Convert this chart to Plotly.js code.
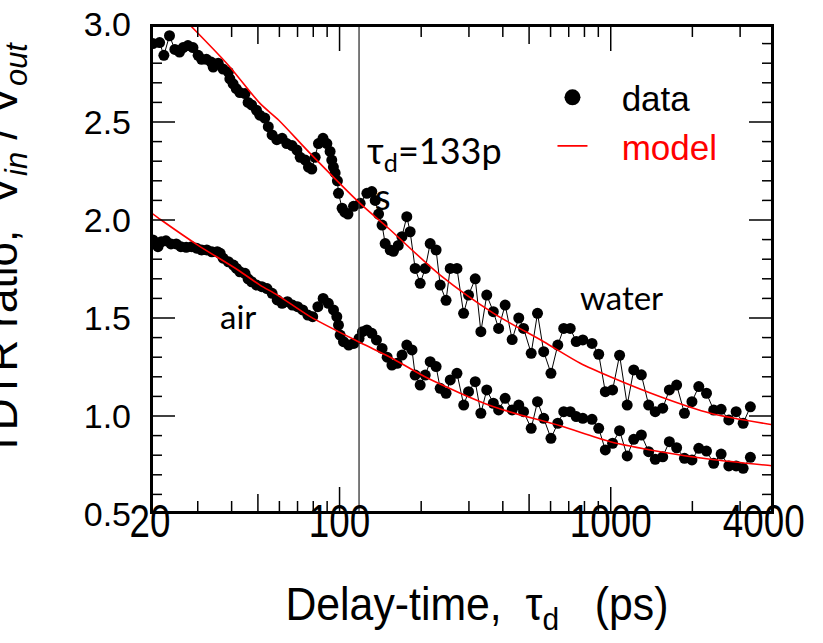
<!DOCTYPE html>
<html>
<head>
<meta charset="utf-8">
<script src="https://cdn.plot.ly/plotly-3.0.1.min.js"></script>
<style>html,body{margin:0;padding:0;background:#fff;}</style>
</head>
<body>
<div id="chart" style="width:823px;height:643px;"></div>
<script>
// ---- data ----
const waterDelay = [20.5, 21.7, 22.5, 23.6, 24.7, 25.7, 26.5, 27.6, 28.8, 30.1,
  31.0, 32.3, 33.6, 34.2, 35.7, 37.2, 38.9, 39.4, 40.5, 41.6,
  42.9, 44.8, 46.0, 47.4, 49.4, 50.8, 53.0, 54.6, 56.4, 58.7,
  61.4, 63.9, 66.8, 69.6, 71.6, 74.7, 76.8, 79.0, 81.3, 83.6,
  86.9, 89.8, 92.3, 93.6, 94.9, 96.3, 98.2, 99.1, 102.2, 104.5,
  107.4, 112.6, 119.1, 126.1, 131.5, 135.4, 139.3, 143.5, 147.3, 153.7,
  158, 164.6, 169.8, 177, 182.1, 190, 198.3, 207, 215.9, 227,
  235, 247, 255.9, 271, 286.7, 299, 316.5, 332, 349, 369,
  386, 408, 433, 458, 477, 509, 537, 566, 602, 638,
  671, 709, 746, 789, 853, 903, 955, 1016, 1078, 1150,
  1216, 1297, 1380, 1459, 1555, 1645, 1750, 1870, 1993, 2112,
  2255, 2397, 2553, 2725, 2900, 3078, 3273];
const waterRatio = [2.90, 2.905, 2.84, 2.94, 2.87, 2.857, 2.88, 2.89, 2.88, 2.84,
  2.82, 2.82, 2.806, 2.78, 2.80, 2.77, 2.755, 2.72, 2.695, 2.67,
  2.65, 2.645, 2.60, 2.587, 2.56, 2.535, 2.52, 2.476, 2.434, 2.41,
  2.417, 2.39, 2.38, 2.357, 2.32, 2.306, 2.27, 2.26, 2.32, 2.39,
  2.417, 2.39, 2.35, 2.306, 2.27, 2.24, 2.20, 2.136, 2.06, 2.04,
  2.03, 2.07, 2.085, 2.136, 2.145, 2.10, 2.03, 1.974, 1.88, 1.847,
  1.84, 1.87, 1.915, 2.017, 1.94, 1.753, 1.677, 1.753, 1.88, 1.847,
  1.668, 1.59, 1.753, 1.753, 1.524, 1.617, 1.70, 1.43, 1.617, 1.532,
  1.447, 1.566, 1.39, 1.50, 1.447, 1.32, 1.524, 1.328, 1.218, 1.362,
  1.447, 1.447, 1.38, 1.388, 1.37, 1.315, 1.124, 1.133, 1.31, 1.056,
  1.235, 1.21, 1.056, 1.022, 1.04, 1.133, 1.158, 1.014, 1.073, 1.15,
  1.116, 1.03, 1.034, 0.98, 1.022, 0.963, 1.047];

const airDelay = [20.5, 21.4, 22.0, 22.9, 23.9, 25.0, 26.0, 27.2, 28.5, 29.7,
  31.0, 32.4, 33.8, 35.4, 36.3, 37.2, 38.9, 40.6, 41.7, 42.9,
  44.8, 46.0, 47.4, 49.4, 51.7, 54.0, 56.4, 58.9, 61.4, 64.2,
  67.0, 70.0, 73.1, 76.4, 79.6, 83.2, 87.0, 90.9, 95.0, 97.7,
  99.1, 100.5, 103.4, 108.1, 112.9, 118.0, 121.5, 126.1, 131.5, 136.8,
  143.5, 149.8, 156, 163, 170, 177, 185, 190, 198.3, 207,
  215.9, 227, 235, 247, 256, 271, 287, 299, 316.5, 332,
  349, 369, 386, 408, 433, 458, 477, 509, 537, 566,
  602, 638, 671, 709, 746, 789, 853, 903, 955, 1016,
  1078, 1150, 1216, 1297, 1380, 1459, 1555, 1645, 1750, 1870,
  1993, 2112, 2255, 2397, 2553, 2725, 2900, 3078, 3273];
const airRatio = [1.898, 1.864, 1.889, 1.894, 1.878, 1.878, 1.864, 1.861, 1.864, 1.856,
  1.847, 1.847, 1.838, 1.838, 1.83, 1.805, 1.787, 1.77, 1.753, 1.736,
  1.728, 1.70, 1.685, 1.668, 1.66, 1.65, 1.626, 1.592, 1.575, 1.583,
  1.566, 1.558, 1.541, 1.515, 1.507, 1.558, 1.60, 1.575, 1.541, 1.507,
  1.464, 1.413, 1.379, 1.362, 1.37, 1.396, 1.43, 1.439, 1.422, 1.388,
  1.345, 1.30, 1.26, 1.269, 1.311, 1.362, 1.337, 1.209, 1.158, 1.209,
  1.277, 1.252, 1.141, 1.116, 1.184, 1.218, 1.056, 1.124, 1.175, 1.014,
  1.133, 1.065, 1.031, 1.09, 1.031, 1.056, 1.022, 0.937, 1.073, 0.988,
  0.886, 0.963, 1.022, 1.022, 0.997, 0.988, 0.983, 0.937, 0.827, 0.861,
  0.925, 0.796, 0.881, 0.903, 0.818, 0.779, 0.792, 0.869, 0.838, 0.784,
  0.776, 0.835, 0.821, 0.759, 0.806, 0.745, 0.745, 0.733, 0.789];

const modelWaterDelay = [28.3, 38.9, 50.9, 59.7, 77.9, 119, 151.5, 235, 370, 566, 772, 996, 1524, 2330, 4000];
const modelWaterRatio = [2.99, 2.79, 2.595, 2.509, 2.34, 2.085, 1.958, 1.719, 1.524, 1.379, 1.269, 1.20, 1.098, 1.014, 0.954];
const modelAirDelay = [20, 22, 30, 42.2, 50.9, 59, 77.9, 119, 153.7, 210, 370, 651, 996, 1524, 2330, 4000];
const modelAirRatio = [2.042, 2.0, 1.872, 1.745, 1.668, 1.617, 1.507, 1.375, 1.30, 1.195, 1.047, 0.95, 0.869, 0.818, 0.779, 0.745];

const tauLineDelay = [118, 118];     // vertical marker line (ps)
const tauLineRatio = [0.5, 3.0];

// axis limits, tick values and tick labels
const xLimits = [20, 4000];
const yLimits = [0.5, 3.0];
const xLabelTicks = [20, 100, 1000, 4000];
const xLabelText = ['20', '100', '1000', '4000\u00a0\u00a0'];
const xLongTicks = [100, 1000];
const xMidTicks = [50, 500];
const xMinorTicks = [30, 40, 60, 70, 80, 90, 200, 300, 400, 600, 700, 800, 900, 2000, 3000];
const yMajorTicks = [1.0, 1.5, 2.0, 2.5];
const yMinorTicks = [0.6, 0.7, 0.8, 0.9, 1.1, 1.2, 1.3, 1.4, 1.6, 1.7, 1.8, 1.9, 2.1, 2.2, 2.3, 2.4, 2.6, 2.7, 2.8, 2.9];

const arial = '"Liberation Sans", Arial, sans-serif';
const calib = 'Lato, "Noto Sans", sans-serif';

const W = 823, H = 643;
const M = {l: 150, r: 49, t: 24, b: 129};
const lx0 = Math.log10(xLimits[0]), lx1 = Math.log10(xLimits[1]);
const decPerPx = (lx1 - lx0) / (W - M.l - M.r);
const unitPerPx = (yLimits[1] - yLimits[0]) / (H - M.t - M.b);

// inside tick marks on all four sides, built from the tick arrays through the axis scales
const tickX = [], tickY = [];
function xTicks(vals, len) {
  const dy = len * unitPerPx;
  vals.forEach(function (v) {
    tickX.push(v, v, null, v, v, null);
    tickY.push(yLimits[0], yLimits[0] + dy, null, yLimits[1], yLimits[1] - dy, null);
  });
}
function yTicks(vals, len) {
  const f = Math.pow(10, len * decPerPx);
  vals.forEach(function (v) {
    tickX.push(xLimits[0], xLimits[0] * f, null, xLimits[1], xLimits[1] / f, null);
    tickY.push(v, v, null, v, v, null);
  });
}
xTicks(xLongTicks, 27);
xTicks(xMidTicks, 20);
xTicks(xMinorTicks, 13);
yTicks(yMajorTicks, 25);
yTicks(yMinorTicks, 12);

function dataTrace(xs, ys, nm) {
  return {x: xs, y: ys, name: nm, mode: 'lines+markers', line: {color: 'black', width: 1}, marker: {color: 'black', size: 11}, showlegend: false};
}
function modelTrace(xs, ys, nm, legend) {
  return {x: xs, y: ys, name: nm, mode: 'lines', line: {color: '#ff0000', width: 1.6, shape: 'spline', smoothing: 0.8}, legendgroup: 'b', showlegend: legend};
}

const traces = [
  dataTrace(waterDelay, waterRatio, 'water'),
  dataTrace(airDelay, airRatio, 'air'),
  {x: [null], y: [null], mode: 'markers', name: '\u00a0\u00a0\u00a0data', legendgroup: 'a', marker: {color: 'black', size: 16}, showlegend: true},
  {x: tauLineDelay, y: tauLineRatio, mode: 'lines', name: 'tau', line: {color: '#333', width: 1.3}, showlegend: false, hoverinfo: 'skip'},
  modelTrace(modelWaterDelay, modelWaterRatio, '\u00a0\u00a0\u00a0<span style="color:#ff0000">model</span>', true),
  modelTrace(modelAirDelay, modelAirRatio, 'model air', false),
  {x: tickX, y: tickY, mode: 'lines', name: 'ticks', line: {color: 'black', width: 1.5}, connectgaps: false, showlegend: false, hoverinfo: 'skip'},
  {x: [xLimits[0], xLimits[1], xLimits[1], xLimits[0], xLimits[0]], y: [yLimits[0], yLimits[0], yLimits[1], yLimits[1], yLimits[0]],
   mode: 'lines', name: 'frame', line: {color: 'black', width: 6}, showlegend: false, hoverinfo: 'skip'}
];

const layout = {
  width: W, height: H,
  margin: M,
  showlegend: true,
  legend: {x: 0.645, y: 0.91, xanchor: 'left', yanchor: 'top', bgcolor: 'rgba(0,0,0,0)',
           font: {family: arial, size: 35, color: 'black'}, tracegroupgap: 0},
  xaxis: {type: 'log', range: [lx0, lx1],
          tickmode: 'array', tickvals: xLabelTicks, ticktext: xLabelText,
          ticks: '', showline: false, showgrid: false, zeroline: false,
          ticklabeloverflow: 'allow', ticklabelstandoff: -24,
          tickfont: {family: arial, size: 46, color: 'black'}},
  yaxis: {range: yLimits, dtick: 0.5, tickformat: '.1f',
          ticks: '', showline: false, showgrid: false, zeroline: false, ticklabelstandoff: 18,
          tickfont: {family: arial, size: 34, color: 'black'}},
  annotations: [
    {xref: 'paper', yref: 'paper', x: -0.232, y: 0.539, xanchor: 'center', yanchor: 'middle', textangle: -90, showarrow: false,
     text: 'TDTR ratio,\u00a0\u00a0V<sub><i>in</i></sub> / V<sub><i>out</i></sub>',
     font: {family: arial, size: 44, color: 'black'}},
    {xref: 'paper', yref: 'paper', x: 0.524, y: -0.19, xanchor: 'center', yanchor: 'middle', showarrow: false,
     text: 'Delay-time,\u00a0\u00a0τ<sub>d</sub>\u00a0\u00a0\u00a0(ps)',
     font: {family: arial, size: 46, color: 'black'}},
    {xref: 'paper', yref: 'paper', x: 0.3446, y: 0.737, xanchor: 'left', yanchor: 'middle', showarrow: false,
     text: 'τ<sub>d</sub>=133p', font: {family: calib, size: 36, color: 'black'}},
    {xref: 'paper', yref: 'paper', x: 0.357, y: 0.648, xanchor: 'left', yanchor: 'middle', showarrow: false,
     text: 's', font: {family: calib, size: 36, color: 'black'}},
    {xref: 'paper', yref: 'paper', x: 0.686, y: 0.443, xanchor: 'left', yanchor: 'middle', showarrow: false,
     text: 'water', font: {family: calib, size: 33, color: 'black'}},
    {xref: 'paper', yref: 'paper', x: 0.109, y: 0.404, xanchor: 'left', yanchor: 'middle', showarrow: false,
     text: 'air', font: {family: calib, size: 33, color: 'black'}}
  ]
};

function condense(el, factor) {
  const w = el.getComputedTextLength();
  if (w > 0) { el.setAttribute('textLength', (w * factor).toFixed(1)); el.setAttribute('lengthAdjust', 'spacingAndGlyphs'); }
}

Plotly.newPlot('chart', traces, layout, {displayModeBar: false}).then(function (gd) {
  gd.querySelectorAll('.xtick text').forEach(function (t) { condense(t, 0.8); });
  const ann = gd.querySelectorAll('.annotation-text');
  if (ann[1]) condense(ann[1], 0.93);
});
</script>
</body>
</html>
